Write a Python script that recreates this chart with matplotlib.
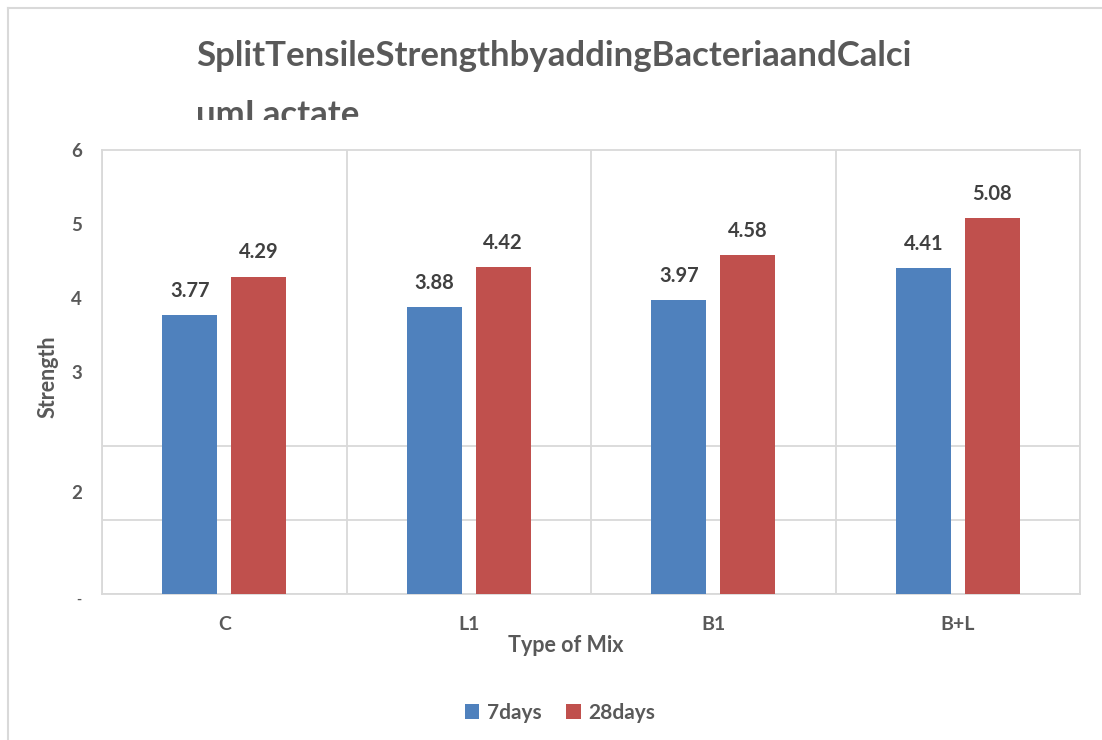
import numpy as np
import matplotlib.pyplot as plt
from matplotlib.lines import Line2D
from matplotlib.transforms import Bbox, TransformedBbox

mixes = ['C', 'L1', 'B1', 'B+L']
days7 = [3.77, 3.88, 3.97, 4.41]
days28 = [4.29, 4.42, 4.58, 5.08]
series = ['7days', '28days']
# y tick labels as they sit in the original (oddly placed "2" and a "-" at zero)
ytick_pos = [1.38, 3, 4, 5, 6]
ytick_lab = ['2', '3', '4', '5', '6']
zero_lab = '-'

BLUE = '#4F81BD'
RED = '#C0504D'
GRID = '#D9D9D9'
TXT = '#595959'
plt.rcParams['font.family'] = ['Lato', 'DejaVu Sans']

W, H = 1102, 740
fig = plt.figure(figsize=(W / 100, H / 100), dpi=100)
ax = fig.add_axes([102 / W, 1 - 594 / H, (1080 - 102) / W, (594 - 150) / H])

x = np.arange(len(mixes))
bw = 0.225
off = 0.141
b1 = ax.bar(x - off, days7, bw, color=BLUE, label=series[0], zorder=3)
b2 = ax.bar(x + off, days28, bw, color=RED, label=series[1], zorder=3)

for bars in (b1, b2):
    for r in bars:
        h = r.get_height()
        ax.text(r.get_x() + r.get_width() / 2, h + 0.245, f'{h:.2f}', ha='center', va='baseline',
                fontsize=14.5, fontweight='bold', color='#404040')

# grid lines on minor ticks, labels on majors
ax.set_yticks(np.arange(0, 7), minor=True)
ax.set_xticks(np.arange(len(mixes) + 1) - 0.5, minor=True)
ax.grid(True, which='minor', color=GRID, lw=1.3, zorder=0)
ax.set_yticks(ytick_pos)
ax.set_yticklabels(ytick_lab)
ax.set_xticks(x)
ax.set_xticklabels(mixes)
ax.set_xlim(-0.5, len(mixes) - 0.5)
ax.set_ylim(0, 6)
ax.tick_params(which='minor', length=0)
ax.tick_params(which='major', length=0, labelcolor=TXT)
ax.tick_params(axis='y', pad=14.5, labelsize=13.5)
ax.tick_params(axis='x', pad=16, labelsize=14)
for lab in ax.get_xticklabels() + ax.get_yticklabels():
    lab.set_fontweight('bold')
ax.annotate(zero_lab, xy=(0, 0), xycoords=ax.get_yaxis_transform(), xytext=(-15, -4),
            textcoords='offset points', ha='right', va='center', fontsize=10,
            fontweight='bold', color=TXT)
for s in ax.spines.values():
    s.set_color(GRID)
    s.set_linewidth(1.3)

fig.text(566 / W, 1 - 646 / H, 'Type of Mix', ha='center', va='center', fontsize=15.5,
         fontweight='bold', color=TXT)
fig.text(48 / W, 1 - 377 / H, 'Strength', ha='center', va='center', rotation=90,
         fontsize=15.5, fontweight='bold', color=TXT)

# title, second line cut off as in the source
fig.text(196 / W, 1 - 66 / H, 'SplitTensileStrengthbyaddingBacteriaandCalci', ha='left',
         va='baseline', fontsize=25, fontweight='bold', color=TXT)
t2 = fig.text(196 / W, 1 - 125 / H, 'umLactate', ha='left', va='baseline', fontsize=25,
              fontweight='bold', color=TXT)
t2.set_clip_box(TransformedBbox(Bbox([[0, 1 - 120 / H], [1, 1]]), fig.transFigure))
t2.set_clip_on(True)

ax.legend(loc='center', bbox_to_anchor=(560 / W, 1 - 713 / H), bbox_transform=fig.transFigure,
          ncol=2, frameon=False, handlelength=0.7, handleheight=0.7, columnspacing=1.2,
          handletextpad=0.35, prop={'size': 15, 'weight': 'bold'}, labelcolor=TXT)

# outer chart frame
fig.add_artist(Line2D([8 / W, 8 / W], [0, 1 - 8 / H], color=GRID, lw=1.5))
fig.add_artist(Line2D([8 / W, 1], [1 - 8 / H, 1 - 8 / H], color=GRID, lw=1.5))

fig.savefig('out.png', dpi=100)
